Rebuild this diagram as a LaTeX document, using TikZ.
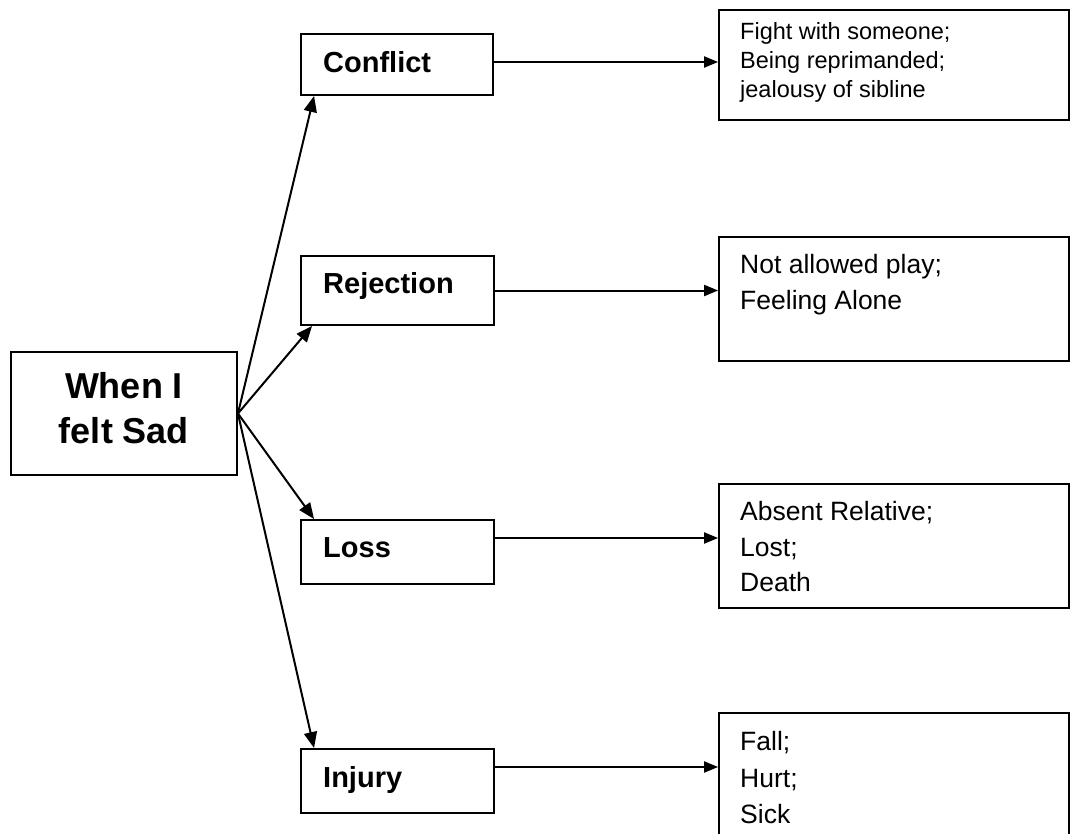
\documentclass[tikz,border=0pt]{standalone}
\usepackage{fontspec}
\setmainfont{Liberation Sans}
\usetikzlibrary{arrows.meta}
\begin{document}
\begin{tikzpicture}[x=1pt,y=-1pt,
  box/.style={draw, line width=1.9pt, inner sep=0pt},
  conn/.style={line width=2pt, -{Triangle[length=16pt,width=13pt]}},
  hconn/.style={line width=2pt, -{Triangle[length=14pt,width=11pt]}},
  lbl/.style={font=\bfseries\fontsize{29}{34}\selectfont, anchor=base west, inner sep=0pt},
  txt/.style={font=\fontsize{26.5}{30}\selectfont, anchor=base west, inner sep=0pt},
  stxt/.style={font=\fontsize{23.5}{26}\selectfont, anchor=base west, inner sep=0pt}]
\useasboundingbox (0,0) rectangle (1070,834);
\clip (0,0) rectangle (1070,834);
\fill[white] (0,0) rectangle (1070,834);

% main box
\node[box, minimum width=226pt, minimum height=123pt] (main) at (124,413.5) {};
\node[font=\bfseries\fontsize{36}{45}\selectfont, anchor=base, inner sep=0pt] (tmain1) at (124,398) {When I};
\node[font=\bfseries\fontsize{36}{45}\selectfont, anchor=base, inner sep=0pt] (tmain2) at (124,443) {felt Sad};

% category boxes
\node[box, minimum width=192pt, minimum height=61pt] (conflict) at (397,64.5) {};
\node[box, minimum width=193pt, minimum height=69pt] (rejection) at (397.5,290.5) {};
\node[box, minimum width=193pt, minimum height=64pt] (loss) at (397.5,552) {};
\node[box, minimum width=193pt, minimum height=64pt] (injury) at (397.5,781) {};

\node[lbl] (tconflict) at (323,73) {Conflict};
\node[lbl] (trejection) at (323,293) {Rejection};
\node[lbl] (tloss) at (323,557) {Loss};
\node[lbl] (tinjury) at (323,787) {Injury};

% detail boxes
\node[box, line width=1.8pt, minimum width=350pt, minimum height=110pt] (r1) at (894,65) {};
\node[box, line width=1.8pt, minimum width=350pt, minimum height=124pt] (r2) at (894,299) {};
\node[box, line width=1.8pt, minimum width=350pt, minimum height=124pt] (r3) at (894,546) {};
\node[box, line width=1.8pt, minimum width=350pt, minimum height=150pt] (r4) at (894,788) {};

\node[stxt] (r1a) at (740,40) {Fight with someone;};
\node[stxt] (r1b) at (740,69) {Being reprimanded;};
\node[stxt] (r1c) at (740,98) {jealousy of sibline};

\node[txt] (r2a) at (740,273) {Not allowed play;};
\node[txt] (r2b) at (740,309) {Feeling Alone};

\node[txt] (r3a) at (740,520) {Absent Relative;};
\node[txt] (r3b) at (740,556) {Lost;};
\node[txt] (r3c) at (740,591) {Death};

\node[txt] (r4a) at (740,750) {Fall;};
\node[txt] (r4b) at (740,787) {Hurt;};
\node[txt] (r4c) at (740,823) {Sick};

% connectors from main
\draw[conn] (main.east) -- ([xshift=14pt]conflict.south west);
\draw[conn] (main.east) -- ([xshift=12pt]rejection.south west);
\draw[conn] (main.east) -- ([xshift=14pt]loss.north west);
\draw[conn] (main.east) -- ([xshift=14pt]injury.north west);

% horizontal connectors
\coordinate (cout) at ([yshift=2.5pt]conflict.east);
\coordinate (rout) at (rejection.east);
\coordinate (lout) at ([yshift=14pt]loss.east);
\coordinate (iout) at ([yshift=14pt]injury.east);
\draw[hconn] (cout) -- (cout -| r1.west);
\draw[hconn] (rout) -- (rout -| r2.west);
\draw[hconn] (lout) -- (lout -| r3.west);
\draw[hconn] (iout) -- (iout -| r4.west);
\end{tikzpicture}
\end{document}
